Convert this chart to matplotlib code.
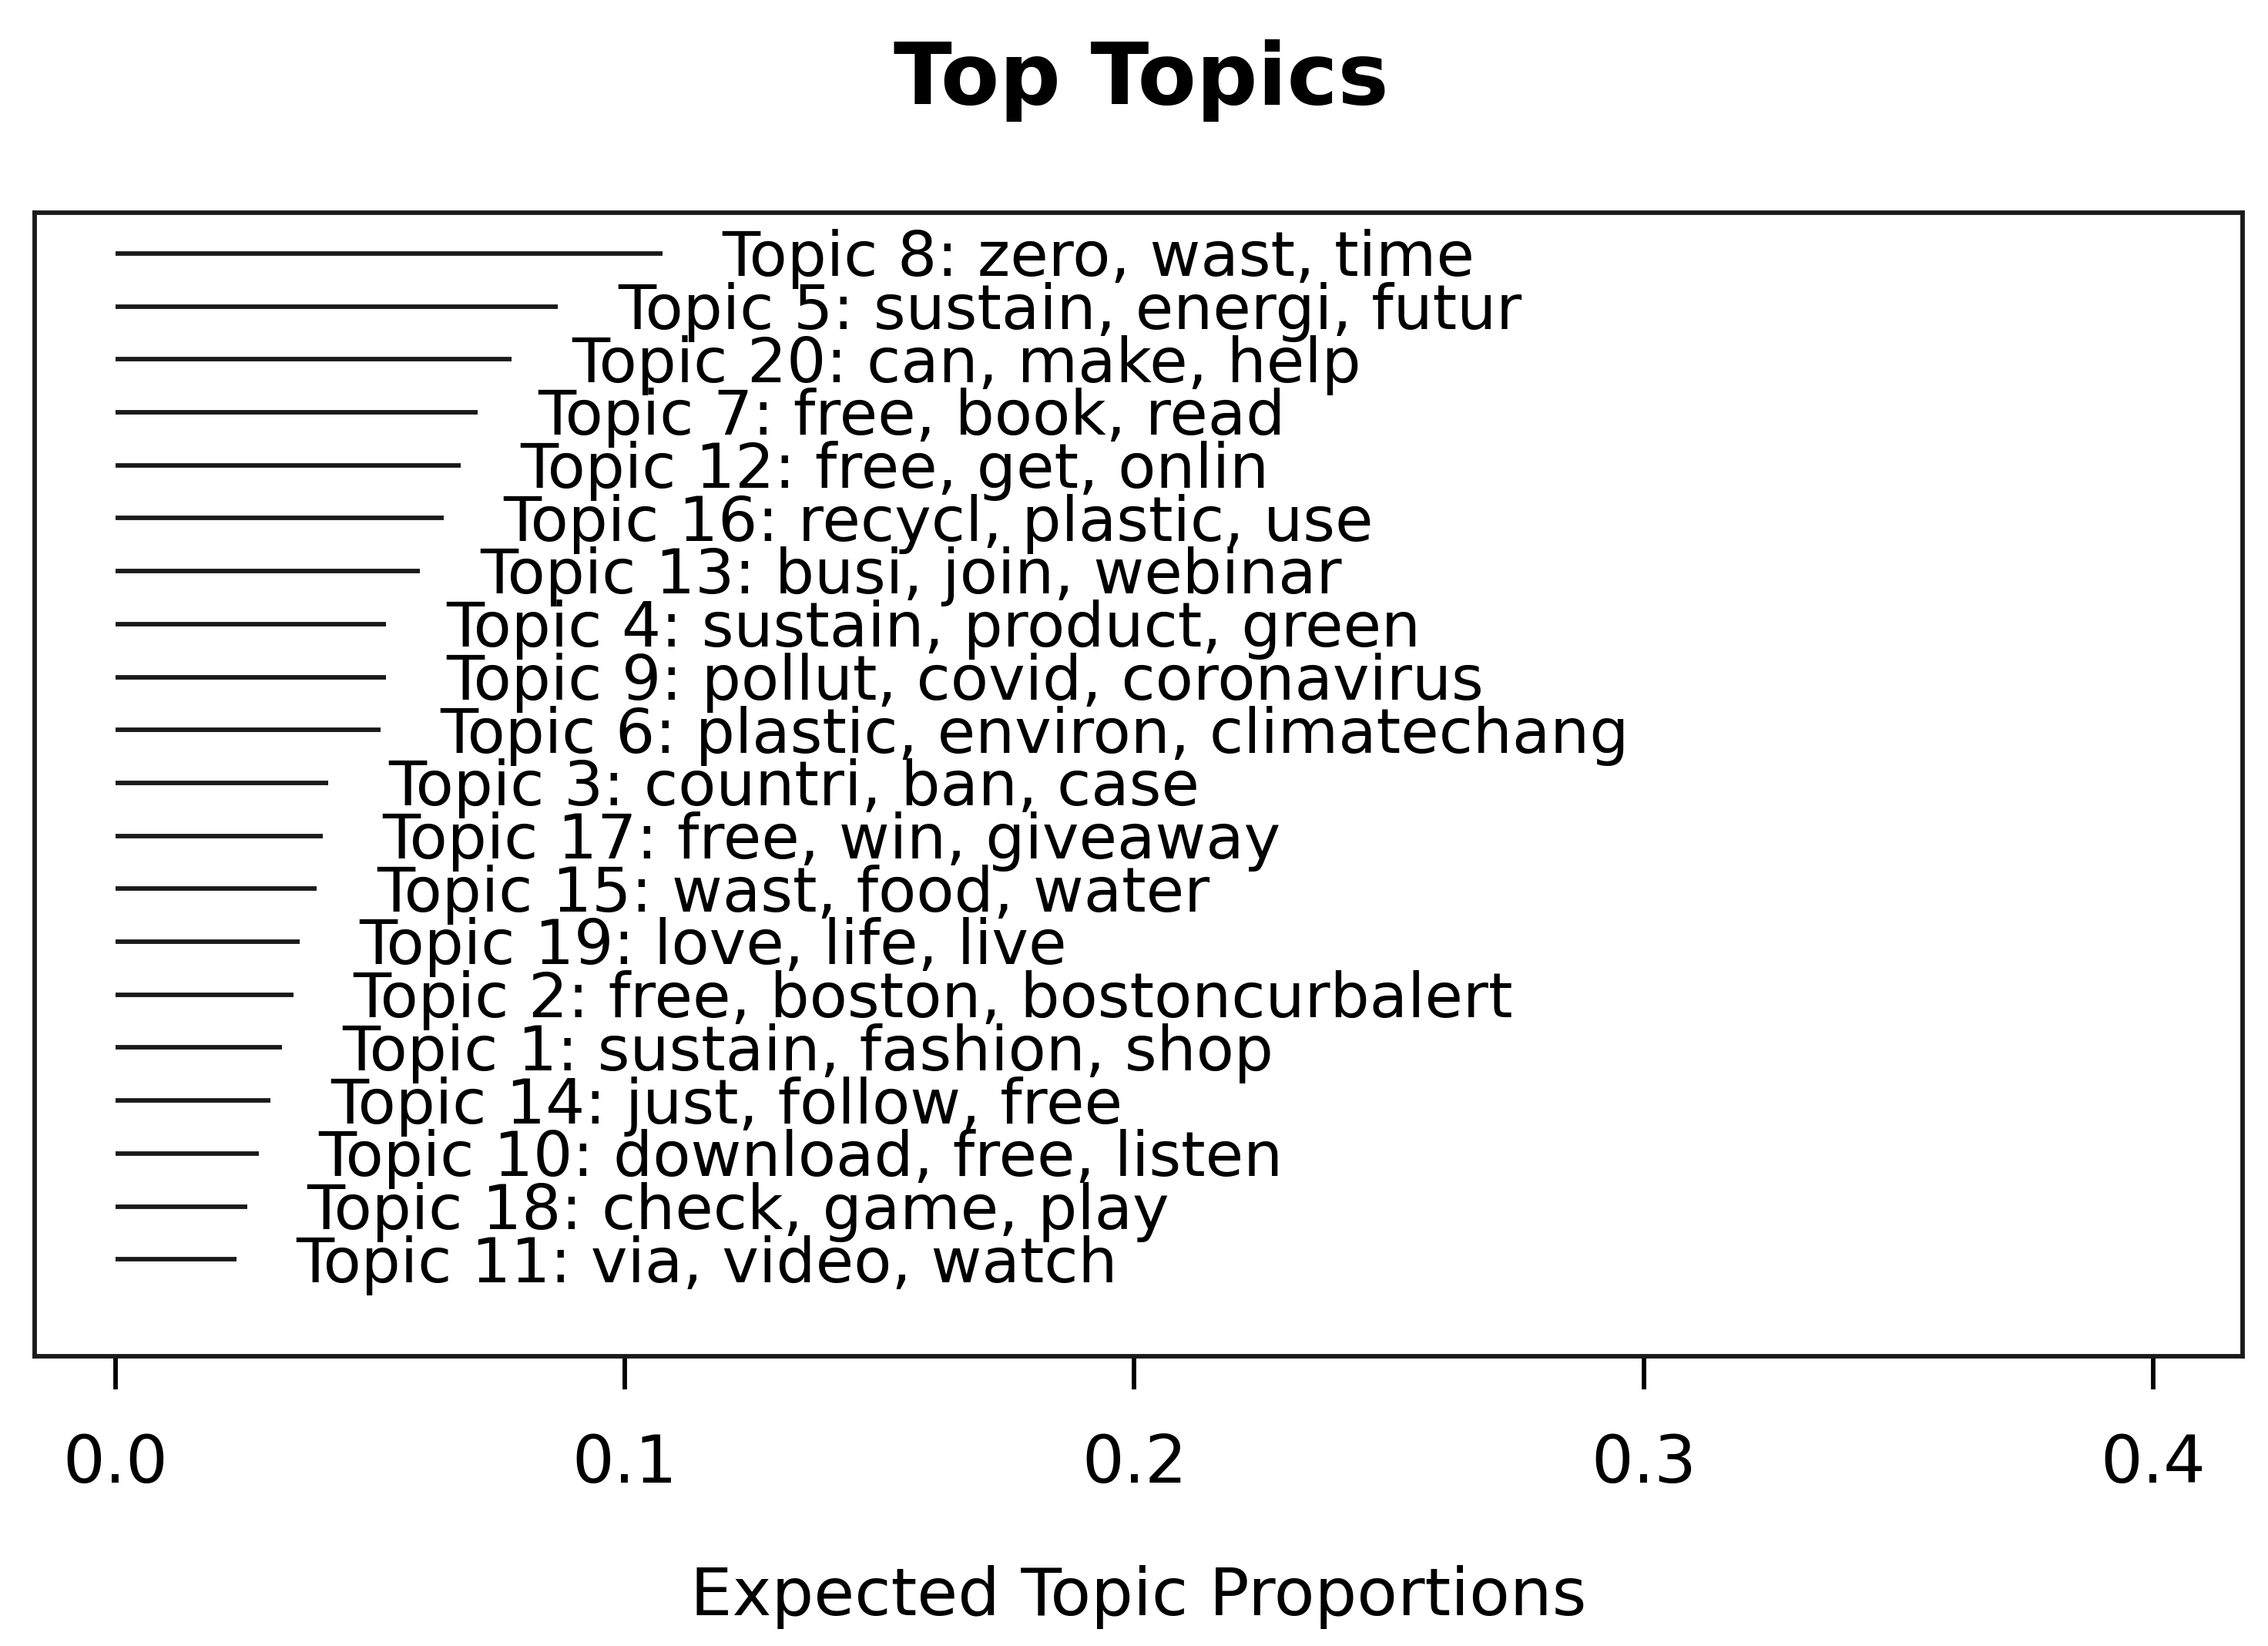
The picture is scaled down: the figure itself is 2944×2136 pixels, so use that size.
import matplotlib
matplotlib.use("Agg")
import matplotlib.pyplot as plt
import numpy as np

plt.rcParams['font.family'] = ['DejaVu Sans']

# topic labels, top to bottom, and their expected proportions
labels = [
    "Topic 8: zero, wast, time",
    "Topic 5: sustain, energi, futur",
    "Topic 20: can, make, help",
    "Topic 7: free, book, read",
    "Topic 12: free, get, onlin",
    "Topic 16: recycl, plastic, use",
    "Topic 13: busi, join, webinar",
    "Topic 4: sustain, product, green",
    "Topic 9: pollut, covid, coronavirus",
    "Topic 6: plastic, environ, climatechang",
    "Topic 3: countri, ban, case",
    "Topic 17: free, win, giveaway",
    "Topic 15: wast, food, water",
    "Topic 19: love, life, live",
    "Topic 2: free, boston, bostoncurbalert",
    "Topic 1: sustain, fashion, shop",
    "Topic 14: just, follow, free",
    "Topic 10: download, free, listen",
    "Topic 18: check, game, play",
    "Topic 11: via, video, watch",
]
proportions = [0.1073, 0.0868, 0.0778, 0.0711, 0.0677, 0.0644, 0.0598,
               0.0531, 0.0531, 0.0520, 0.0418, 0.0406, 0.0395, 0.0361,
               0.0349, 0.0327, 0.0304, 0.0281, 0.0258, 0.0237]
xticks = [0.0, 0.1, 0.2, 0.3, 0.4]

fig = plt.figure(figsize=(29.44, 21.36), dpi=100)
ax = fig.add_axes([45 / 2944, 1 - 1760 / 2136, (2911 - 45) / 2944, (1760 - 276) / 2136])

fs = 58
lw = 4.2
ypos = np.arange(len(labels), 0, -1)

ax.hlines(ypos, 0, proportions, color='#1a1a1a', linewidth=lw)
for y, p, lab in zip(ypos, proportions, labels):
    ax.annotate(lab, xy=(p, y), xytext=(56, -0.729 * fs / 2),
                textcoords='offset points', ha='left', va='baseline',
                fontsize=fs, color='black')

ax.set_xlim(-0.0159, 0.4176)
ax.set_ylim(-0.83, 20.77)

ax.set_xticks(xticks)
ax.set_xticklabels([f"{t:.1f}" for t in xticks])
ax.tick_params(axis='x', direction='out', length=31, width=lw, pad=40,
               labelsize=62, colors='black')
ax.set_yticks([])
for s in ax.spines.values():
    s.set_linewidth(lw)
    s.set_color('#1a1a1a')

ax.set_xlabel("Expected Topic Proportions", fontsize=62, labelpad=64)
fig.text(0.503, 1 - 135 / 2136, "Top Topics", ha='center', va='baseline',
         fontsize=80, fontweight='bold')

fig.savefig("out.png", dpi=100)
